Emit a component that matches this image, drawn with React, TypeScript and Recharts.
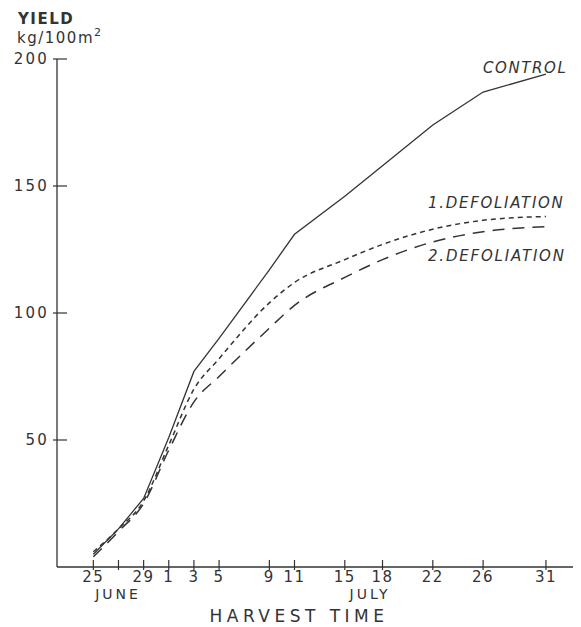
import { LineChart, Line, XAxis, YAxis } from "recharts";

// harvest days counted from 25 June
const harvestDays = [0, 2, 4, 6, 8, 10, 14, 16, 20, 23, 27, 31, 36];
const dayLabels = ["25", "", "29", "1", "3", "5", "9", "11", "15", "18", "22", "26", "31"];
const control = [5, 15, 27, 51, 77, 90, 117, 131, 146, 158, 174, 187, 194];
const defoliation1 = [6, 15, 26, 48, 70, 82, 104, 112, 121, 127, 133, 136.5, 138];
const defoliation2 = [4, 14, 25, 46, 65, 75, 94, 103, 114, 121, 128, 132, 134];
const yTicks = [50, 100, 150, 200];

const data = harvestDays.map((day, i) => ({
  day,
  control: control[i],
  def1: defoliation1[i],
  def2: defoliation2[i],
}));

const INK = "#333";
const FONT = "'DejaVu Sans', sans-serif";

const XTick = (props: any) => {
  const { x, y, payload } = props;
  const idx = harvestDays.indexOf(payload.value);
  return (
    <g>
      <line x1={x} x2={x} y1={y - 7} y2={y + 3} stroke={INK} strokeWidth={1.2} />
      <text x={x} y={y + 15} textAnchor="middle" fontSize={15} fill={INK} fontFamily={FONT} letterSpacing={1.5}>
        {dayLabels[idx]}
      </text>
    </g>
  );
};

const YTick = (props: any) => {
  const { x, y, payload } = props;
  return (
    <g>
      <line x1={x - 4} x2={x + 10} y1={y} y2={y} stroke={INK} strokeWidth={1.2} />
      <text x={x - 8} y={y + 5} textAnchor="end" fontSize={15} fill={INK} fontFamily={FONT} letterSpacing={2.2}>
        {payload.value}
      </text>
    </g>
  );
};

export default function App() {
  return (
    <div style={{ position: "absolute", left: 0, top: 0, width: 581, height: 627, background: "#fff" }}>
      <LineChart width={581} height={627} data={data} margin={{ top: 59, right: 8, left: 0, bottom: 0 }}>
        <XAxis
          dataKey="day"
          type="number"
          domain={[-2.89, 38.15]}
          allowDataOverflow
          ticks={harvestDays}
          interval={0}
          height={60}
          tickSize={0}
          tickMargin={0}
          tick={<XTick />}
          axisLine={{ stroke: INK, strokeWidth: 1.3 }}
        />
        <YAxis
          type="number"
          domain={[0, 200]}
          ticks={yTicks}
          width={57}
          tickSize={0}
          tickMargin={0}
          tick={<YTick />}
          axisLine={{ stroke: INK, strokeWidth: 1.3 }}
        />
        <Line type="linear" dataKey="control" stroke={INK} strokeWidth={1.3} dot={false} isAnimationActive={false} />
        <Line type="monotone" dataKey="def1" stroke={INK} strokeWidth={1.5} strokeDasharray="5 4" dot={false} isAnimationActive={false} />
        <Line type="monotone" dataKey="def2" stroke={INK} strokeWidth={1.5} strokeDasharray="12 8" dot={false} isAnimationActive={false} />
      </LineChart>
      <svg width={581} height={627} style={{ position: "absolute", left: 0, top: 0, pointerEvents: "none" }}>
        <g fill={INK} fontFamily={FONT}>
          <text x={18} y={24} fontSize={15} fontWeight="bold" letterSpacing={1.5}>YIELD</text>
          <text x={17} y={43} fontSize={15} letterSpacing={1.5}>
            kg/100m<tspan dy={-7} fontSize={11}>2</tspan>
          </text>
          <text x={483} y={73} fontSize={15} fontStyle="italic" letterSpacing={1.6}>CONTROL</text>
          <text x={428} y={208} fontSize={15} fontStyle="italic" letterSpacing={1.7}>1.DEFOLIATION</text>
          <text x={428} y={261} fontSize={15} fontStyle="italic" letterSpacing={1.8}>2.DEFOLIATION</text>
          <text x={118} y={599} fontSize={14} textAnchor="middle" letterSpacing={3}>JUNE</text>
          <text x={370} y={599} fontSize={14} textAnchor="middle" letterSpacing={3}>JULY</text>
          <text x={299} y={622} fontSize={17} textAnchor="middle" letterSpacing={4.5}>HARVEST TIME</text>
        </g>
      </svg>
    </div>
  );
}
